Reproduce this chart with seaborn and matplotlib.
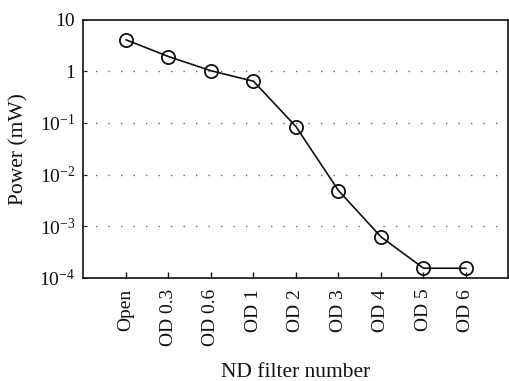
import matplotlib
matplotlib.use("Agg")
import matplotlib.pyplot as plt
import seaborn as sns
import pandas as pd
from matplotlib.ticker import FixedLocator, FixedFormatter, NullLocator

filters = ["Open", "OD 0.3", "OD 0.6", "OD 1", "OD 2", "OD 3", "OD 4", "OD 5", "OD 6"]
power_mw = [4.1, 1.94, 1.03, 0.645, 0.085, 0.0049, 0.00062, 0.000153, 0.000153]

y_ticks = [1e-4, 1e-3, 1e-2, 1e-1, 1, 10]
y_tick_labels = [r"$10^{-4}$", r"$10^{-3}$", r"$10^{-2}$", r"$10^{-1}$", "1", "10"]
grid_levels = [1e-3, 1e-2, 1e-1, 1]

sns.set_theme(style="white")
plt.rcParams["font.family"] = ["Liberation Serif", "DejaVu Serif"]
plt.rcParams["mathtext.fontset"] = "custom"
plt.rcParams["mathtext.rm"] = "Liberation Serif"
plt.rcParams["mathtext.it"] = "Liberation Serif:italic"

df = pd.DataFrame({"filter": filters, "power": power_mw})
df["pos"] = range(len(filters))

fig = plt.figure(figsize=(5.09, 3.81), dpi=100)
ax = fig.add_axes([0.164, 0.271, 0.835, 0.677])

for g in grid_levels:
    ax.axhline(g, color="#666666", linewidth=1.0, linestyle=(0, (1, 8)), zorder=1)

sns.lineplot(data=df, x="pos", y="power", ax=ax, color="#111111", linewidth=1.2,
             marker="o", markersize=9.5, markerfacecolor="none",
             markeredgecolor="#111111", markeredgewidth=1.3, zorder=3)

ax.set_yscale("log")
ax.set_ylim(1e-4, 10)
ax.set_xlim(-1, 9)
ax.yaxis.set_major_locator(FixedLocator(y_ticks))
ax.yaxis.set_major_formatter(FixedFormatter(y_tick_labels))
ax.yaxis.set_minor_locator(NullLocator())
ax.set_xticks(df["pos"])
ax.set_xticklabels(filters, rotation=90)

ax.tick_params(axis="x", direction="in", length=4, width=1, bottom=True,
               labelsize=14, pad=8, colors="#111111")
ax.tick_params(axis="y", direction="in", length=3, width=0.8, left=True,
               labelsize=14, pad=6, colors="#111111")

for s in ax.spines.values():
    s.set_visible(True)
    s.set_color("#111111")
    s.set_linewidth(1.2)

ax.set_xlabel("ND filter number", fontsize=15.5, color="#111111", labelpad=12)
ax.set_ylabel("Power (mW)", fontsize=15.5, color="#111111", labelpad=8)
ax.grid(False)

fig.savefig("out.png", dpi=100, facecolor="white")
